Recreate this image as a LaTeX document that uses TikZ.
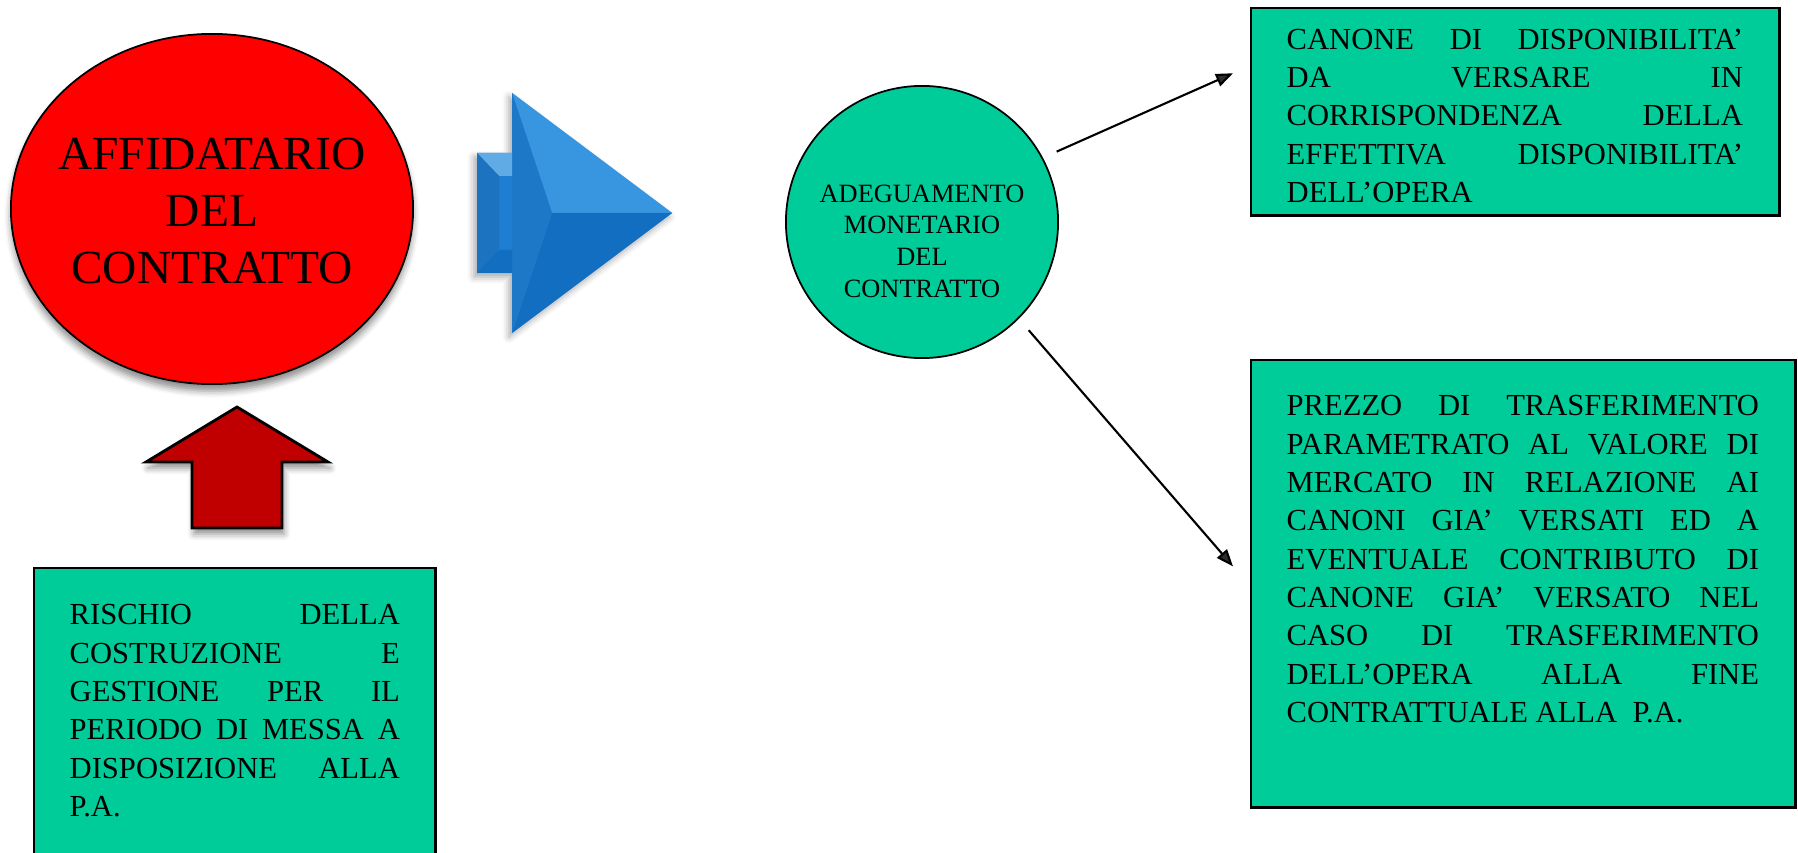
\documentclass[tikz,border=0pt]{standalone}
\usepackage{fontspec}
\setmainfont{Liberation Serif}
\usetikzlibrary{arrows.meta,shapes.geometric,shadows.blur}
\definecolor{boxgreen}{RGB}{0,204,153}
\definecolor{arrowred}{RGB}{192,0,0}
\definecolor{arrowblue}{RGB}{30,126,210}
\definecolor{bluelight}{RGB}{56,150,224}
\definecolor{bluedark}{RGB}{18,110,192}

\begin{document}
\begin{tikzpicture}[x=0.01cm,y=-0.01cm,
		greenbox/.style={draw=black,line width=0.7pt,fill=boxgreen,inner sep=0,anchor=north west},
		boxtext/.style={inner sep=0,anchor=north west,align=justify,font=\fontsize{8.7}{10.9}\selectfont},
		link/.style={-{Triangle[length=0.17cm,width=0.13cm]},line width=0.6pt,shorten <=0.15cm}]
			\useasboundingbox (0,0) rectangle (1798,852);
			% affidatario
			\node[ellipse,draw=black,line width=0.5pt,fill=red,minimum width=4.02cm,minimum height=3.5cm,inner sep=0,blur shadow={shadow xshift=0cm,shadow yshift=-0.07cm,shadow opacity=45}] (affid) at (212,209) {};
			\node[align=center,inner sep=0,font=\fontsize{13.5}{16.2}\selectfont] (affidtxt) at (212,211) {AFFIDATARIO\\DEL\\CONTRATTO};
			% freccia rossa
			\filldraw[fill=arrowred,line width=0.8pt,blur shadow={shadow xshift=0.02cm,shadow yshift=-0.06cm,shadow opacity=45}] (237,407) -- (328,462) -- (282,462) -- (282,528) -- (192,528) -- (192,462) -- (146,462) -- cycle;
			% rischio
			\node[greenbox,minimum width=4.01cm,minimum height=3.5cm] (rischio) at (33,567) {};
			\node[boxtext,text width=3.3cm] (rischiotxt) at (69,604) {RISCHIO DELLA\linebreak COSTRUZIONE E\linebreak GESTIONE PER IL\linebreak PERIODO DI MESSA A\linebreak DISPOSIZIONE ALLA\linebreak P.A.};
			% freccia blu
			\fill[arrowblue,blur shadow={shadow xshift=-0.03cm,shadow yshift=-0.04cm,shadow opacity=35}] (477,153) -- (512,153) -- (512,93) -- (672,213) -- (512,333) -- (512,273) -- (477,273) -- cycle;
			\fill[bluelight] (512,93) -- (672,213) -- (552,213) -- cycle;
			\fill[bluedark] (512,333) -- (672,213) -- (552,213) -- cycle;
			\fill[arrowblue!95!black] (512,93) -- (552,213) -- (512,333) -- cycle;
			\fill[bluelight!80!white] (477,153) -- (512,153) -- (512,176) -- (499,176) -- cycle;
			\fill[arrowblue!92!black] (477,153) -- (499,176) -- (499,250) -- (477,273) -- cycle;
			\fill[bluedark] (477,273) -- (499,250) -- (512,250) -- (512,273) -- cycle;
			% adeguamento
			\node[circle,draw=black,line width=0.5pt,fill=boxgreen,minimum size=2.72cm,inner sep=0] (adeg) at (922,222) {};
			\node[align=center,inner sep=0,font=\fontsize{7.5}{9}\selectfont] (adegtxt) at (922,241) {ADEGUAMENTO\\MONETARIO\\DEL\\CONTRATTO};
			% canone
			\node[greenbox,minimum width=5.28cm,minimum height=2.07cm] (canone) at (1250,7) {};
			\node[boxtext,text width=4.56cm] (canonetxt) at (1286,28) {CANONE DI DISPONIBILITA’\linebreak DA VERSARE IN\linebreak CORRISPONDENZA DELLA\linebreak EFFETTIVA DISPONIBILITA’\linebreak DELL’OPERA};
			% prezzo
			\node[greenbox,minimum width=5.44cm,minimum height=4.47cm] (prezzo) at (1250,359) {};
			\node[boxtext,text width=4.72cm] (prezzotxt) at (1286,395) {PREZZO DI TRASFERIMENTO\linebreak PARAMETRATO AL VALORE DI\linebreak MERCATO IN RELAZIONE AI\linebreak CANONI GIA’ VERSATI ED A\linebreak EVENTUALE CONTRIBUTO DI\linebreak CANONE GIA’ VERSATO NEL\linebreak CASO DI TRASFERIMENTO\linebreak DELL’OPERA ALLA FINE\linebreak CONTRATTUALE ALLA~~P.A.};
			% frecce
			\draw[link] (adeg.28) -- ([xshift=-0.17cm,yshift=0.385cm]canone.west);
			\draw[link] (adeg.-45) -- ([xshift=-0.17cm,yshift=0.175cm]prezzo.west);
		\end{tikzpicture}
\end{document}
